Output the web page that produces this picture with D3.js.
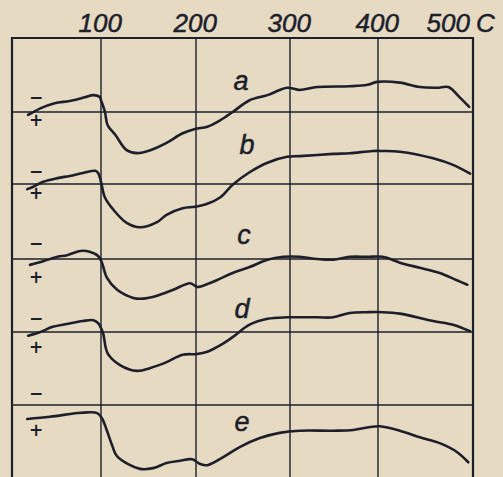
<!DOCTYPE html>
<html><head><meta charset="utf-8">
<script src="https://cdn.jsdelivr.net/npm/d3@7"></script>
<style>html,body{margin:0;padding:0;background:#e6dac3;}svg{display:block}</style>
</head><body>
<svg id="chart" width="503" height="477"></svg>
<script>
// ---- data ----
const tempTicks = [100, 200, 300, 400, 500];
const tickLabels = ["100", "200", "300", "400", "500"];
const unitLabel = "C";
const curveNames = ["a", "b", "c", "d", "e"];
// [temperature, deflection] ; deflection in tenths of a grid row, positive = downward (+)
const curveA = [[23,0.4],[36,-0.5],[51,-1.2],[67,-1.5],[83,-2.0],[92,-2.3],[99,-2.0],[100,-1.6],[104,-0.1],[107,1.8],[115,3.1],[127,5.2],[138,5.6],[152,5.2],[169,4.2],[186,2.9],[199,2.3],[212,2.0],[226,1.1],[239,0],[257,-1.6],[276,-2.3],[297,-3.3],[311,-3.0],[331,-3.4],[368,-3.5],[388,-3.7],[399,-4.1],[423,-4.0],[444,-3.4],[462,-3.3],[474,-3.4],[486,-2.0],[496,-0.7]];
const curveB = [[22,0.7],[28,0.4],[39,-0.3],[54,-0.8],[67,-1.1],[81,-1.5],[94,-1.8],[97,-1.5],[100,-0.3],[104,1.8],[113,3.5],[127,5.3],[141,5.9],[159,5.2],[169,4.2],[186,3.3],[199,3.1],[212,2.7],[226,1.8],[239,0.1],[257,-1.6],[276,-2.9],[297,-3.7],[311,-3.8],[349,-4.1],[368,-4.2],[394,-4.5],[405,-4.5],[423,-4.4],[458,-3.5],[479,-2.6],[497,-1.4]];
const curveC = [[25,0.8],[39,0.3],[54,-0.3],[64,-0.5],[78,-1.1],[88,-1.0],[97,-0.4],[101,0.5],[106,2.5],[117,4.2],[134,5.3],[144,5.4],[159,5.0],[176,4.2],[194,3.3],[201,3.8],[206,3.7],[222,2.9],[239,1.9],[257,1.1],[276,0.1],[293,-0.3],[311,-0.3],[331,0],[349,0.1],[368,-0.3],[388,-0.3],[405,-0.3],[423,0.5],[444,1.2],[465,1.9],[483,2.9],[494,3.5]];
const curveD = [[23,0.5],[36,0],[49,-0.7],[64,-1.1],[81,-1.5],[92,-1.6],[97,-1.2],[102,0.1],[107,2.9],[120,4.5],[138,5.3],[152,4.9],[169,4.1],[186,3.1],[201,3.0],[212,2.7],[226,1.8],[239,0.7],[257,-1.0],[276,-1.8],[297,-2.0],[331,-2.0],[349,-2.0],[368,-2.6],[388,-2.7],[405,-2.7],[423,-2.5],[458,-1.5],[479,-1.0],[497,-0.1]];
const curveE = [[22,1.9],[46,1.6],[75,1.1],[86,1.0],[96,1.1],[101,1.8],[106,3.4],[112,5.6],[117,7.0],[141,8.7],[155,8.6],[169,7.9],[183,7.6],[196,7.4],[204,8.0],[212,8.2],[229,7.1],[247,5.7],[268,4.5],[289,3.8],[311,3.5],[349,3.5],[372,3.4],[391,3.0],[402,2.9],[423,3.5],[444,4.4],[465,5.2],[483,6.4],[495,7.8]];
const curves = [curveA, curveB, curveC, curveD, curveE];

// ---- layout ----
const ink = "#1d1f2b";
const svg = d3.select("#chart");
const x = d3.scaleLinear().domain([6, 100, 200, 300, 400, 500]).range([12, 101, 196, 290, 378, 473]);
const rowY = d3.scaleLinear().domain([0, 1, 2, 3, 4, 5]).range([38, 112, 184, 259, 332, 405]);
const defl = d3.scaleLinear().domain([0, 10]).range([0, 73.4]);

const g = svg.append("g");
g.selectAll("line.h").data(d3.range(0, 6)).join("line")
  .attr("x1", x(6)).attr("x2", x(500))
  .attr("y1", d => rowY(d)).attr("y2", d => rowY(d))
  .attr("stroke", ink).attr("stroke-width", d => d === 0 ? 2 : 1.4);
g.selectAll("line.v").data([6].concat(tempTicks)).join("line")
  .attr("x1", d => x(d)).attr("x2", d => x(d))
  .attr("y1", rowY(0) - 1).attr("y2", 480)
  .attr("stroke", ink).attr("stroke-width", d => (d === 6 || d === 500) ? 2.2 : 1.4);

// tick labels
const font = "'Liberation Sans', Arial, sans-serif";
svg.selectAll("text.tick").data(tempTicks).join("text")
  .attr("x", (d, i) => i === 4 ? x(d) - 3 : x(d) + 21)
  .attr("y", 32)
  .attr("text-anchor", "end")
  .attr("font-family", font).attr("font-style", "italic").attr("font-size", 26)
  .attr("fill", ink).attr("stroke", ink).attr("stroke-width", 0.5)
  .text((d, i) => tickLabels[i]);
svg.append("text").attr("x", x(500) + 3).attr("y", 32)
  .attr("font-family", font).attr("font-style", "italic").attr("font-size", 26)
  .attr("fill", ink).attr("stroke", ink).attr("stroke-width", 0.5).text(unitLabel);

// curves
const line = d3.line().curve(d3.curveCatmullRom.alpha(0.5));
curves.forEach((c, i) => {
  svg.append("path")
    .attr("d", line(c.map(p => [x(p[0]), rowY(i + 1) + defl(p[1])])))
    .attr("fill", "none").attr("stroke", ink).attr("stroke-width", 2.6)
    .attr("stroke-linejoin", "round").attr("stroke-linecap", "round");
});

// curve name labels (placement)
const namePos = [[241, 90], [247, 154], [244, 244], [242, 318], [242, 431]];
svg.selectAll("text.name").data(curveNames).join("text")
  .attr("x", (d, i) => namePos[i][0]).attr("y", (d, i) => namePos[i][1])
  .attr("text-anchor", "middle")
  .attr("font-family", font).attr("font-style", "italic").attr("font-size", 27)
  .attr("fill", ink).attr("stroke", ink).attr("stroke-width", 0.5).text(d => d);

// sign labels
const signFont = "'DejaVu Sans', sans-serif";
const minusOff = [-15, -13, -16, -14, -12];
const plusOff = [8, 9, 18, 15, 25];
curveNames.forEach((n, i) => {
  svg.append("text").attr("x", 36).attr("y", rowY(i + 1) + minusOff[i])
    .attr("text-anchor", "middle").attr("dominant-baseline", "central")
    .attr("font-family", signFont).attr("font-weight", "bold").attr("font-size", 17)
    .attr("fill", ink).text("\u2212");
  svg.append("text").attr("x", 36).attr("y", rowY(i + 1) + plusOff[i])
    .attr("text-anchor", "middle").attr("dominant-baseline", "central")
    .attr("font-family", signFont).attr("font-weight", "bold").attr("font-size", 17)
    .attr("fill", ink).text("+");
});
</script>
</body></html>
